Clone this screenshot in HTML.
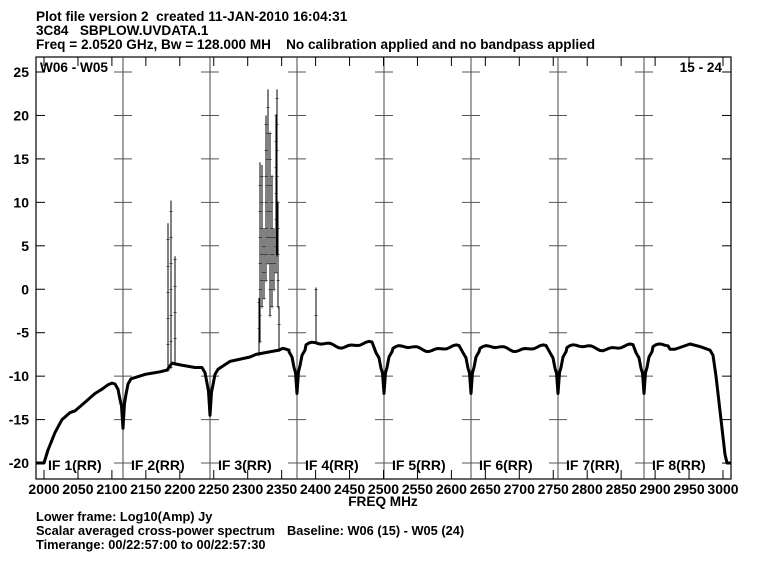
<!DOCTYPE html>
<html><head><meta charset="utf-8"><style>
body{margin:0;background:#fff;}
svg{display:block;font-family:"Liberation Sans",Arial,sans-serif;font-weight:bold;}
text{white-space:pre;}
</style></head><body>
<svg id="s" width="768" height="572" viewBox="0 0 768 572" xmlns="http://www.w3.org/2000/svg" xml:space="preserve">
<g font-size="13.6" fill="#000">
<text x="36" y="21">Plot file version 2  created 11-JAN-2010 16:04:31</text>
<text x="36" y="35">3C84   SBPLOW.UVDATA.1</text>
<text x="36" y="49">Freq = 2.0520 GHz, Bw = 128.000 MH    No calibration applied and no bandpass applied</text>
<text x="40" y="72">W06 - W05</text>
<text x="722" y="72" text-anchor="end">15 - 24</text>
<text x="383" y="506" text-anchor="middle">FREQ MHz</text>
</g>
<g font-size="12.8" fill="#000">
<text x="36" y="521">Lower frame: Log10(Amp) Jy</text>
<text x="36" y="535">Scalar averaged cross-power spectrum</text>
<text x="287" y="535">Baseline: W06 (15) - W05 (24)</text>
<text x="36" y="549">Timerange: 00/22:57:00 to 00/22:57:30</text>
</g>
<g id="ax" stroke="#000" fill="none"></g>
<g id="lab" font-size="14" fill="#000"></g>
<g id="dat"></g>
</svg>
<script>
var NS="http://www.w3.org/2000/svg";
function el(p,t,a,txt){var e=document.createElementNS(NS,t);for(var k in a)e.setAttribute(k,a[k]);if(txt!==undefined)e.textContent=txt;document.getElementById(p).appendChild(e);return e;}
var L=36,R=731,T=57,B=479;
function Y(v){return 72+(25-v)*8.69;}
function X(f){return 44+(f-2000)*0.679;}
el('ax','rect',{x:L,y:T,width:R-L,height:B-T,'stroke-width':1.2});
var S=[123,210,297,384,471,558,644];
S.forEach(function(s){el('ax','line',{x1:s,y1:T,x2:s,y2:B,'stroke-width':1,stroke:'#444'});
 for(var v=-20;v<=25;v+=5){el('ax','line',{x1:s-9,y1:Y(v),x2:s+9,y2:Y(v),'stroke-width':1,stroke:'#555'});}});
for(var v=-20;v<=25;v+=5){var y=Y(v);
 el('ax','line',{x1:L,y1:y,x2:L+9,y2:y,'stroke-width':1});
 el('ax','line',{x1:R-9,y1:y,x2:R,y2:y,'stroke-width':1});
 el('lab','text',{x:29,y:y+5,'text-anchor':'end'},String(v));}
for(var f=2000;f<=3000;f+=50){var x=X(f);
 el('ax','line',{x1:x,y1:B,x2:x,y2:B-9,'stroke-width':1});
 el('ax','line',{x1:x,y1:T,x2:x,y2:T+9,'stroke-width':1});
 el('lab','text',{x:x,y:494,'text-anchor':'middle'},String(f));}
var starts=[48,131,218,305,392,479,566,652];
starts.forEach(function(x,i){el('lab','text',{x:x,y:470},'IF '+(i+1)+'(RR)');});
function notch(s,d,lb,la){return [[s-8,lb],[s-5,lb-0.6],[s-3,lb-1.8],[s-1.5,(lb+d)/2],[s,d],[s+1.5,(la+d)/2],[s+3,la-1.8],[s+5,la-0.6],[s+8,la]];}
function band(a,b,lvl){var out=[];for(var x=a;x<=b;x+=3){out.push([x,lvl+0.25*Math.sin((x-a)/8)+0.15*Math.sin((x-a)/3.1)]);}return out;}
var P=[[36,-20],[44,-20],[48,-18.5],[55,-16.5],[62,-15],[70,-14.2],[75,-14],[85,-13],[95,-12],[102,-11.5],[108,-11],[112,-10.8]];
P=P.concat(notch(123,-16,-10.9,-10.3));
P=P.concat([[145,-9.8],[160,-9.5],[167,-9.3],[172,-8.5],[180,-8.7],[195,-9],[199,-9]],notch(210,-14.5,-9,-9.2));
P=P.concat([[230,-8.3],[250,-7.8],[256,-7.5],[279,-7],[283,-6.8],[289,-7]],notch(297,-12,-7.2,-7));
var lv=[-6.4,-6.8,-6.8,-6.7];
for(var i=0;i<4;i++){var s=S[2+i],e=S[3+i];P=P.concat(band(s+9,e-11,lv[i]));P=P.concat(notch(e,-12,-7.3,-7.2));}
P=P.concat(band(653,668,-6.6),[[670,-6.9],[675,-6.9],[680,-6.7],[690,-6.3],[700,-6.6],[705,-6.8],[710,-7],[713,-7.6],[716,-10],[719,-13],[722,-16],[725,-19],[727,-20],[731,-20]]);
el('dat','polyline',{points:P.map(function(p){return p[0]+','+Y(p[1]).toFixed(1);}).join(' '),fill:'none',stroke:'#000','stroke-width':3,'stroke-linejoin':'round'});
var spk=[[168,-9.3,7.6],[171,-9,10.2],[175,-8.6,3.8],
[259,-7.5,-1],[260,-6,14.6],[262,-2,14.3],[264,-1,7],[266,1,20],[268,3,23],[270,-3,18],[272,-2,13],[274,0,7],[276,2,20],[277,4,23],[278,-2,10],[279,-7,-2],[316,-6,0.2]];
spk.forEach(function(s){el('dat','line',{x1:s[0],y1:Y(s[1]),x2:s[0],y2:Y(s[2]),stroke:'#000','stroke-width':1});
 for(var v=s[1];v<=s[2];v+=3){el('dat','text',{x:s[0],y:Y(v)+2.5,'font-size':7,'font-weight':'normal','text-anchor':'middle'},'+');}});
</script>
</body></html>
